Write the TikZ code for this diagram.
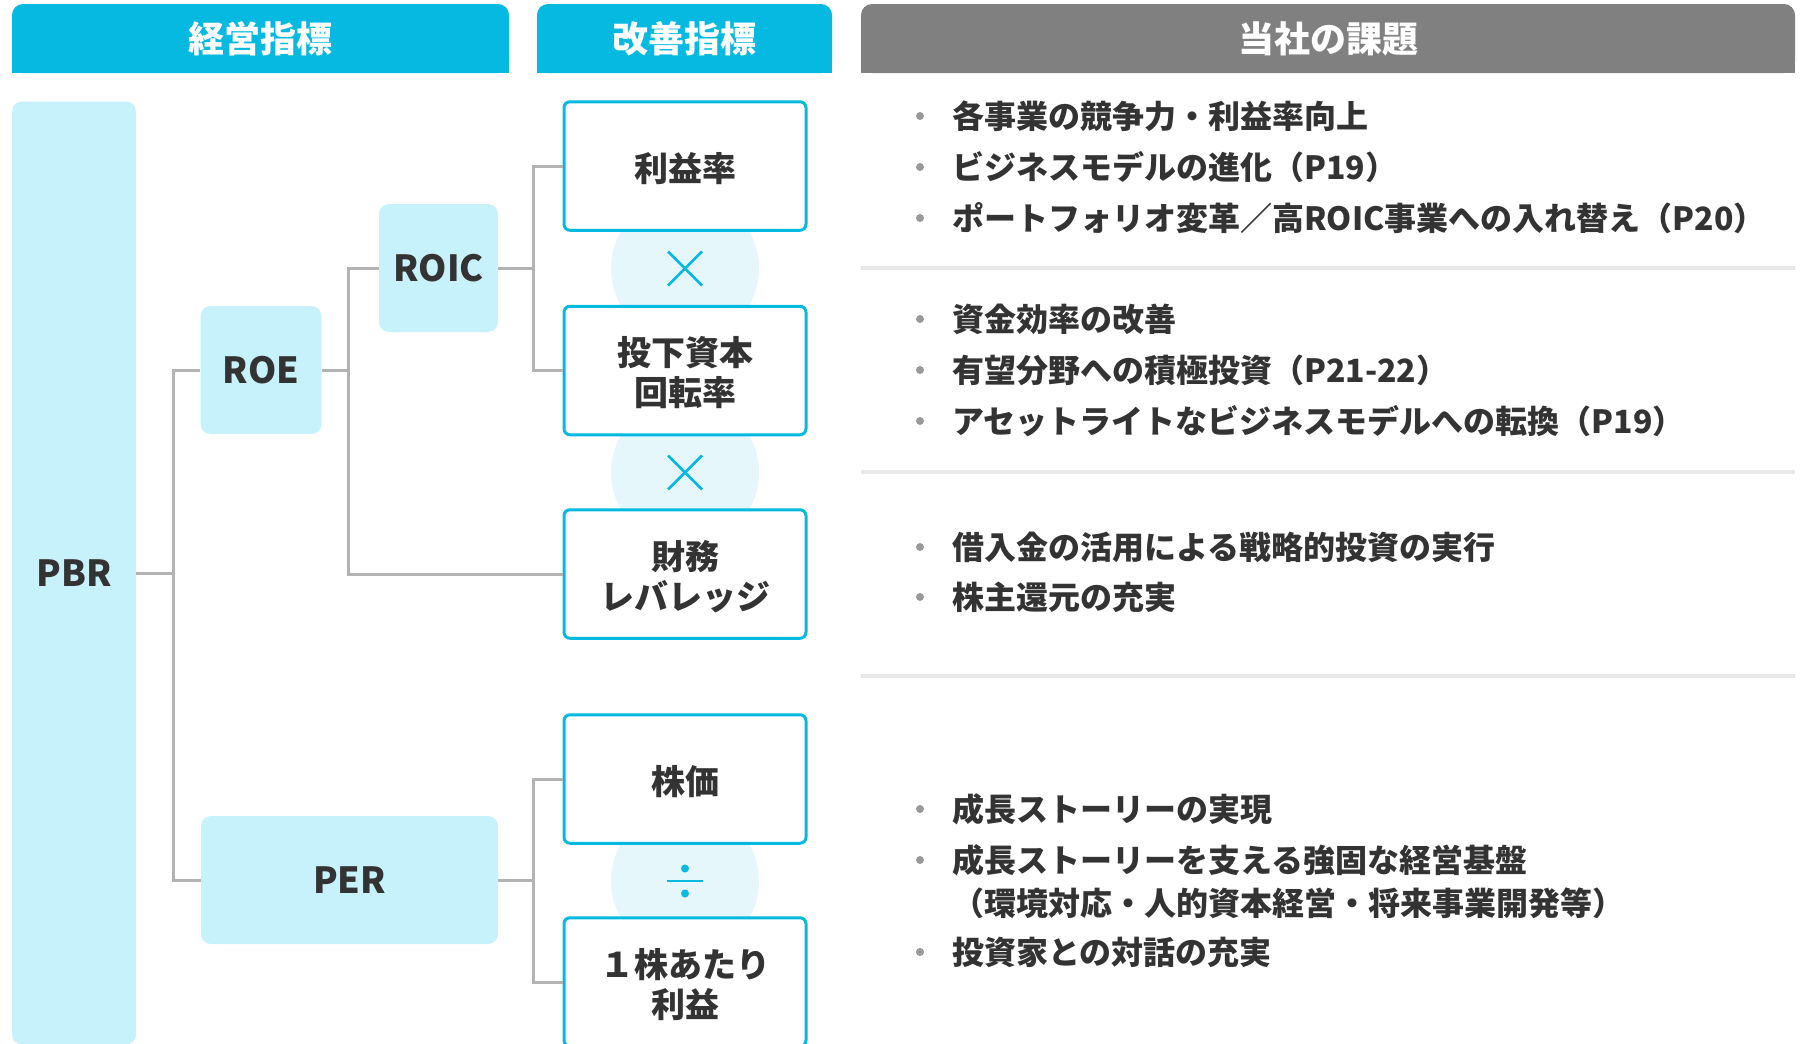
\documentclass[tikz,border=0pt]{standalone}
\usepackage{fontspec}
\setmainfont{Noto Sans CJK JP}
\usetikzlibrary{calc}
\definecolor{hdrblue}{HTML}{06B9E0}
\definecolor{hdrgray}{HTML}{808080}
\definecolor{lblue}{HTML}{C8F2FB}
\definecolor{cblue}{HTML}{E6F7FC}
\definecolor{txt}{HTML}{333333}
\definecolor{connc}{HTML}{B3B3B3}
\definecolor{sepc}{HTML}{E8E8E8}
\definecolor{dotc}{HTML}{999999}
\begin{document}
\begin{tikzpicture}[x=1pt,y=-1pt,
  hdrtext/.style={text=white,font=\fontsize{36}{40}\selectfont\bfseries,inner sep=0pt},
  mbox/.style={fill=lblue,rounded corners=10pt,text=txt,inner sep=0pt,
    font=\fontsize{36}{40}\selectfont\bfseries},
  wbox/.style={draw=hdrblue,line width=3pt,fill=white,rounded corners=6pt,
    inner sep=0pt,minimum width=242pt,minimum height=128.5pt},
  wtext/.style={text=txt,inner sep=0pt,align=center,
    font=\fontsize{34}{40}\selectfont\bfseries},
  opcircle/.style={circle,fill=cblue,minimum size=148pt,inner sep=0pt},
  opline/.style={draw=hdrblue,line width=2.5pt},
  connline/.style={draw=connc,line width=3pt},
  sepline/.style={draw=sepc,line width=4pt},
  bultext/.style={anchor=base west,text=txt,inner sep=0pt,
    font=\fontsize{32}{38}\selectfont\bfseries},
  bdot/.style={circle,fill=dotc,minimum size=8pt,inner sep=0pt}
]
\useasboundingbox (0,0) rectangle (1805,1044);
\fill[white] (0,0) rectangle (1805,1044);

% headers
\fill[hdrblue,rounded corners=11pt] (12,4) rectangle (509,73);
\fill[hdrblue] (12,40) rectangle (509,73);
\node[hdrtext] (h1) at (260.5,39) {経営指標};
\fill[hdrblue,rounded corners=11pt] (537,4) rectangle (832,73);
\fill[hdrblue] (537,40) rectangle (832,73);
\node[hdrtext] (h2) at (684.5,39) {改善指標};
\fill[hdrgray,rounded corners=11pt] (861,4) rectangle (1795,73);
\fill[hdrgray] (861,40) rectangle (1795,73);
\node[hdrtext] (h3) at (1328,39) {当社の課題};

% separators
\draw[sepline] (861,268) -- (1795,268);
\draw[sepline] (861,472) -- (1795,472);
\draw[sepline] (861,676) -- (1795,676);

% left boxes
\node[mbox,minimum width=124pt,minimum height=943pt] (pbr) at (74,573) {PBR};
\node[mbox,minimum width=121pt,minimum height=128pt] (roe) at (261,370) {ROE};
\node[mbox,minimum width=119pt,minimum height=128pt] (roic) at (438.5,268) {ROIC};
\node[mbox,minimum width=297pt,minimum height=128pt] (per) at (349.5,880) {PER};

% operator circles
\node[opcircle] (c1) at (685,268.5) {};
\node[opcircle] (c2) at (685,472.5) {};
\node[opcircle] (c3) at (685,881) {};

% white boxes
\node[wbox] (rieki) at (685,166) {};
\node[wbox] (toka) at (685,370.5) {};
\node[wbox] (zaimu) at (685,574) {};
\node[wbox] (kabuka) at (685,779) {};
\node[wbox] (eps) at (685,982) {};
\node[wtext] (riekit) at ($(rieki)+(0,2.5)$) {利益率};
\node[wtext] (tokat) at ($(toka)+(0,2.5)$) {投下資本\\回転率};
\node[wtext] (zaimut) at ($(zaimu)+(0,2.5)$) {財務\\レバレッジ};
\node[wtext] (kabukat) at ($(kabuka)+(0,2.5)$) {株価};
\node[wtext] (epst) at ($(eps)+(0,2.5)$) {１株あたり\\利益};

% operators
\draw[opline] ($(c1)+(-17,-17)$) -- ($(c1)+(17,17)$);
\draw[opline] ($(c1)+(-17,17)$) -- ($(c1)+(17,-17)$);
\draw[opline] ($(c2)+(-17,-17)$) -- ($(c2)+(17,17)$);
\draw[opline] ($(c2)+(-17,17)$) -- ($(c2)+(17,-17)$);
\draw[opline] ($(c3)+(-18,0)$) -- ($(c3)+(18,0)$);
\fill[hdrblue] ($(c3)+(0,-12.5)$) circle (4);
\fill[hdrblue] ($(c3)+(0,12.5)$) circle (4);

% connectors
\coordinate (j1) at (173,573);
\coordinate (j2) at (348.5,370);
\coordinate (j3) at (533,268);
\coordinate (j4) at (533,880);
\draw[connline] (pbr.east) -- (j1);
\draw[connline] (j1) |- (roe.west);
\draw[connline] (j1) |- (per.west);
\draw[connline] (roe.east) -- (j2);
\draw[connline] (j2) |- (roic.west);
\draw[connline] (j2) |- (zaimu.west);
\draw[connline] (roic.east) -- (j3);
\draw[connline] (j3) |- (rieki.west);
\draw[connline] (j3) |- (toka.west);
\draw[connline] (per.east) -- (j4);
\draw[connline] (j4) |- (kabuka.west);
\draw[connline] (j4) |- (eps.west);

% bullet texts
\foreach \y/\t [count=\i] in {
  116/各事業の競争力・利益率向上,
  167/ビジネスモデルの進化（P19）,
  218/ポートフォリオ変革／高ROIC事業への入れ替え（P20）,
  319/資金効率の改善,
  370/有望分野への積極投資（P21-22）,
  421/アセットライトなビジネスモデルへの転換（P19）,
  547/借入金の活用による戦略的投資の実行,
  597/株主還元の充実,
  809/成長ストーリーの実現,
  860/成長ストーリーを支える強固な経営基盤,
  952/投資家との対話の充実}{
  \node[bdot] (d\i) at (920,\y) {};
  \node[bultext] (t\i) at (952,\y+12) {\t};
}
\node[bultext] (t10b) at (952,903+12) {（環境対応・人的資本経営・将来事業開発等）};
\end{tikzpicture}
\end{document}
